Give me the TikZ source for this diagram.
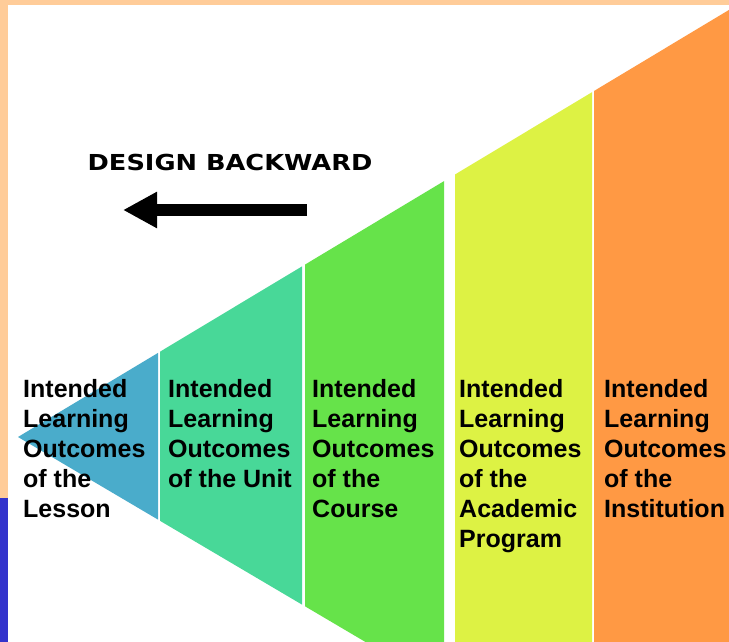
\documentclass[tikz,border=0pt]{standalone}
\usepackage{fontspec}
\setmainfont{Liberation Sans}
\newfontfamily\dvfont{DejaVu Sans}
\usetikzlibrary{arrows.meta}
\definecolor{peach}{HTML}{FFCC99}
\definecolor{stripblue}{HTML}{3333CC}
\definecolor{segblue}{HTML}{4AACCB}
\definecolor{segteal}{HTML}{48D898}
\definecolor{seggreen}{HTML}{66E34A}
\definecolor{segyellow}{HTML}{DDF244}
\definecolor{segorange}{HTML}{FF9944}
\begin{document}
\begin{tikzpicture}[x=1pt,y=-1pt,
  lbl/.style={anchor=north west, align=left, inner sep=0pt,
    font=\fontsize{25}{30}\selectfont\bfseries},
  title/.style={anchor=base, inner sep=0pt, xscale=1.167, transform shape,
    font=\dvfont\fontsize{22}{26}\selectfont\bfseries},
  backarrow/.style={line width=12pt, -{Triangle[length=34pt,width=34pt]}}]
\useasboundingbox (0,0) rectangle (729,642);
\fill[peach] (0,0) rectangle (729,642);
\fill[stripblue] (0,498) rectangle (8,642);
\fill[white] (8,5) rectangle (729,642);
% wedge segments
\fill[segblue] (18,437) -- (158,352.9) -- (158,519.6) -- cycle;
\fill[segteal] (160,351.7) -- (302,266.4) -- (302,604.6) -- (160,520.8) -- cycle;
\fill[seggreen] (305,264.6) -- (444,181.1) -- (444,642) -- (365.5,642) -- (305,606.3) -- cycle;
\fill[segyellow] (455,174.5) -- (592,92.2) -- (592,642) -- (455,642) -- cycle;
\fill[segorange] (594,91) -- (729,9.9) -- (729,642) -- (594,642) -- cycle;
% title and arrow
\node[title] (db) at (230,170) {DESIGN BACKWARD};
\coordinate (as) at (307,210);
\coordinate (ae) at (123,210);
\draw[backarrow] (as) -- (ae);
% labels
\node[lbl] (c1) at (23,379) {Intended\\Learning\\Outcomes\\of the\\Lesson};
\node[lbl] (c2) at (168,379) {Intended\\Learning\\Outcomes\\of the Unit};
\node[lbl] (c3) at (312,379) {Intended\\Learning\\Outcomes\\of the\\Course};
\node[lbl] (c4) at (459,379) {Intended\\Learning\\Outcomes\\of the\\Academic\\Program};
\node[lbl] (c5) at (604,379) {Intended\\Learning\\Outcomes\\of the\\Institution};
\end{tikzpicture}
\end{document}
